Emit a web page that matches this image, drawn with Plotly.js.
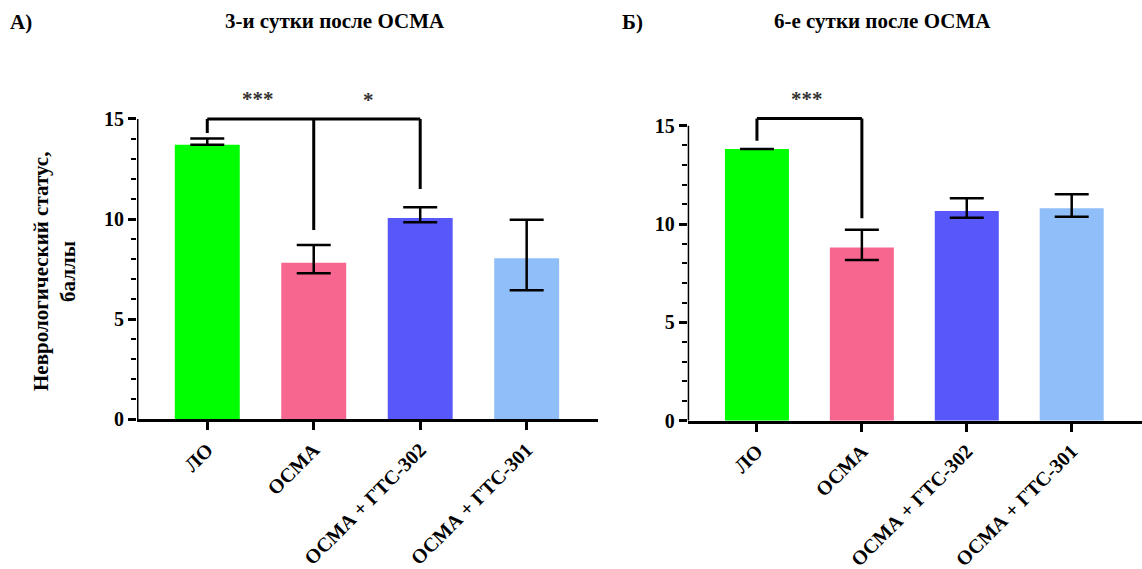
<!DOCTYPE html>
<html>
<head>
<meta charset="utf-8">
<script src="https://cdn.plot.ly/plotly-3.0.1.min.js"></script>
<style>html,body{margin:0;padding:0;background:#fff;}#chart{width:1142px;height:569px;}</style>
</head>
<body>
<div id="chart"></div>
<script>
// ---- data ----
const categories = ["ЛО", "ОСМА", "ОСМА + ГТС-302", "ОСМА + ГТС-301"];
const barColors = ["#00FF00", "#F7668F", "#5858FA", "#90BEF8"];

// Panel A: 3rd day
const day3Mean  = [13.72, 7.82, 10.05, 8.04];
const day3Upper = [14.02, 8.71, 10.59, 9.97];
const day3Lower = [13.72, 7.29, 9.84, 6.44];

// Panel B: 6th day
const day6Mean  = [13.81, 8.81, 10.66, 10.80];
const day6Upper = [13.81, 9.71, 11.31, 11.52];
const day6Lower = [13.81, 8.17, 10.32, 10.37];

// y axis ticks
const majorTicks = [0, 5, 10, 15];
const minorTicks = [1, 2, 3, 4, 6, 7, 8, 9, 11, 12, 13, 14];
const yMax = 15;

// significance brackets: category indices, top level, leg ends
const sigA_cats = [0, 1, 2];
const sigA_top = 15.0;
const sigA_legEnds = [14.3, 9.46, 11.5];
const sigA_labels = ["***", "*"];
const sigA_labelX = [0.48, 1.51];
const sigA_labelY = [15.98, 15.95];

const sigB_cats = [0, 1];
const sigB_top = 15.37;
const sigB_legEnds = [14.23, 10.29];
const sigB_labels = ["***"];
const sigB_labelX = [0.48];
const sigB_labelY = [16.34];

const titleA = "3-и сутки после ОСМА";
const titleB = "6-е сутки после ОСМА";
const yTitle = "Неврологический статус,<br>баллы";

// ---- build ----
const FONT = '"Liberation Serif", "Times New Roman", Times, serif';
const XMIN = -0.66, XMAX = 3.67, YTOP = 16.6;
function diff(a, b) { return a.map((v, i) => v - b[i]); }

function barTrace(means, upper, lower, xa, ya) {
  return {
    type: "bar",
    x: categories,
    y: means,
    xaxis: xa, yaxis: ya,
    marker: { color: barColors, line: { width: 0 } },
    error_y: {
      type: "data", symmetric: false,
      array: diff(upper, means),
      arrayminus: diff(means, lower),
      color: "#000", thickness: 2.5, width: 17
    },
    showlegend: false,
    hoverinfo: "skip"
  };
}

const data = [
  barTrace(day3Mean, day3Upper, day3Lower, "x", "y"),
  barTrace(day6Mean, day6Upper, day6Lower, "x2", "y2")
];

const lineStyle = { color: "#000", width: 3 };
const shapes = [];
function addBracket(cats, top, legs, xr, yr) {
  const first = cats[0], last = cats[cats.length - 1];
  shapes.push({ type: "line", xref: xr, yref: yr, x0: first, x1: last, y0: top, y1: top, line: lineStyle });
  cats.forEach((c, i) => {
    shapes.push({ type: "line", xref: xr, yref: yr, x0: c, x1: c, y0: top, y1: legs[i], line: lineStyle });
  });
}
addBracket(sigA_cats, sigA_top, sigA_legEnds, "x", "y");
addBracket(sigB_cats, sigB_top, sigB_legEnds, "x2", "y2");
// y axis lines (0..15 only)
shapes.push({ type: "line", xref: "x", yref: "y", x0: XMIN, x1: XMIN, y0: 0, y1: yMax, line: { color: "#000", width: 3 } });
shapes.push({ type: "line", xref: "x2", yref: "y2", x0: XMIN, x1: XMIN, y0: 0, y1: yMax, line: { color: "#000", width: 3 } });

const starFont = { family: FONT, size: 21, color: "#333", weight: "bold" };
const annotations = [];
sigA_labels.forEach((t, i) => annotations.push({
  xref: "x", yref: "y", x: sigA_labelX[i], y: sigA_labelY[i], text: t, showarrow: false,
  xanchor: "center", yanchor: "middle", font: starFont
}));
sigB_labels.forEach((t, i) => annotations.push({
  xref: "x2", yref: "y2", x: sigB_labelX[i], y: sigB_labelY[i], text: t, showarrow: false,
  xanchor: "center", yanchor: "middle", font: starFont
}));
const boldFont = (s) => ({ family: FONT, size: s, color: "#000", weight: "bold" });
annotations.push(
  { xref: "paper", yref: "paper", x: 335 / 1142, y: 1 - 21 / 569, xanchor: "center", yanchor: "middle", text: titleA, showarrow: false, font: boldFont(21) },
  { xref: "paper", yref: "paper", x: 882 / 1142, y: 1 - 21 / 569, xanchor: "center", yanchor: "middle", text: titleB, showarrow: false, font: boldFont(21) },
  { xref: "paper", yref: "paper", x: 8 / 1142, y: 1 - 22 / 569, xanchor: "left", yanchor: "middle", text: "А)", showarrow: false, font: boldFont(21) },
  { xref: "paper", yref: "paper", x: 620 / 1142, y: 1 - 22 / 569, xanchor: "left", yanchor: "middle", text: "Б)", showarrow: false, font: boldFont(21) },
  { xref: "paper", yref: "paper", x: 54 / 1142, y: 1 - 272 / 569, xanchor: "center", yanchor: "middle", text: yTitle, textangle: -90, showarrow: false, font: boldFont(21) }
);

function xAxis(domain, anchor) {
  return {
    domain: domain, anchor: anchor, range: [XMIN, XMAX],
    showline: true, linecolor: "#000", linewidth: 3,
    ticks: "outside", ticklen: 8, tickwidth: 3, tickcolor: "#000",
    tickangle: -45, tickfont: boldFont(20),
    showgrid: false, zeroline: false, fixedrange: true
  };
}
function yAxis(domain, anchor) {
  return {
    domain: domain, anchor: anchor, range: [0, YTOP],
    tickmode: "array", tickvals: majorTicks,
    showline: false,
    ticks: "outside", ticklen: 8, tickwidth: 3, tickcolor: "#000",
    minor: { tickmode: "array", tickvals: minorTicks, ticks: "outside", ticklen: 5, tickwidth: 2, tickcolor: "#000", showgrid: false },
    tickfont: boldFont(20),
    showgrid: false, zeroline: false, fixedrange: true
  };
}

// panel pixel geometry (0 line and 15 line)
const A = { x0: 137, x1: 598, yZero: 419.3, yFifteen: 119 };
const B = { x0: 687.7, x1: 1142, yZero: 420.7, yFifteen: 125.7 };
function yDomain(p) {
  const perUnit = (p.yZero - p.yFifteen) / yMax;
  const top = p.yZero - YTOP * perUnit;
  return [1 - p.yZero / 569, 1 - top / 569];
}

const layout = {
  width: 1142, height: 569,
  margin: { l: 0, r: 0, t: 0, b: 0 },
  paper_bgcolor: "#fff", plot_bgcolor: "rgba(0,0,0,0)",
  bargap: 0.39,
  xaxis: xAxis([A.x0 / 1142, A.x1 / 1142], "y"),
  yaxis: yAxis(yDomain(A), "x"),
  xaxis2: xAxis([B.x0 / 1142, B.x1 / 1142], "y2"),
  yaxis2: yAxis(yDomain(B), "x2"),
  shapes: shapes,
  annotations: annotations
};

Plotly.newPlot("chart", data, layout, { displayModeBar: false, staticPlot: true });
</script>
</body>
</html>
